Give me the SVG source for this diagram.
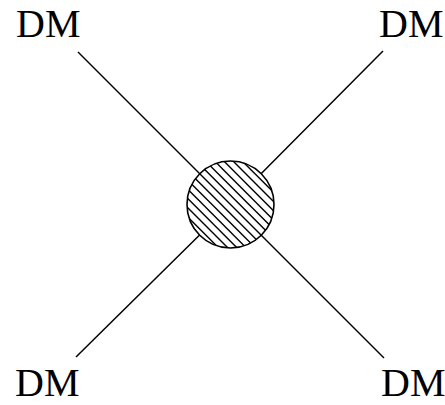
<svg xmlns="http://www.w3.org/2000/svg" width="445" height="405" viewBox="0 0 445 405">
<style>
.lbl{font-family:"Liberation Serif","DejaVu Serif",serif;font-size:40px;fill:#000}
.ln{stroke:#000;stroke-width:1.5;fill:none}
.h{stroke:#000;stroke-width:1.4}
</style>
<defs>
<clipPath id="cc"><circle cx="230.5" cy="204.5" r="43.5"/></clipPath>
</defs>
<rect width="445" height="405" fill="#ffffff"/>
<g id="connectors">
<line class="ln" x1="78" y1="52" x2="230.5" y2="204.5"/>
<line class="ln" x1="383" y1="51" x2="230.5" y2="204.5"/>
<line class="ln" x1="76" y1="357" x2="230.5" y2="204.5"/>
<line class="ln" x1="384" y1="358" x2="230.5" y2="204.5"/>
</g>
<g id="blob">
<circle cx="230.5" cy="204.5" r="43.5" fill="#ffffff"/>
<g clip-path="url(#cc)">
<line class="h" x1="180" y1="209.2" x2="280" y2="309.2"/>
<line class="h" x1="180" y1="200" x2="280" y2="300"/>
<line class="h" x1="180" y1="190.8" x2="280" y2="290.8"/>
<line class="h" x1="180" y1="181.6" x2="280" y2="281.6"/>
<line class="h" x1="180" y1="172.4" x2="280" y2="272.4"/>
<line class="h" x1="180" y1="163.2" x2="280" y2="263.2"/>
<line class="h" x1="180" y1="154" x2="280" y2="254"/>
<line class="h" x1="180" y1="144.8" x2="280" y2="244.8"/>
<line class="h" x1="180" y1="135.6" x2="280" y2="235.6"/>
<line class="h" x1="180" y1="126.4" x2="280" y2="226.4"/>
<line class="h" x1="180" y1="117.2" x2="280" y2="217.2"/>
<line class="h" x1="180" y1="108" x2="280" y2="208"/>
<line class="h" x1="180" y1="98.8" x2="280" y2="198.8"/>
</g>
<circle cx="230.5" cy="204.5" r="43.5" fill="none" stroke="#000" stroke-width="1.6"/>
</g>
<g id="dm-tl"><text class="lbl" x="16" y="37">DM</text></g>
<g id="dm-tr"><text class="lbl" x="379" y="37">DM</text></g>
<g id="dm-bl"><text class="lbl" x="15" y="396">DM</text></g>
<g id="dm-br"><text class="lbl" x="381" y="396">DM</text></g>
</svg>
